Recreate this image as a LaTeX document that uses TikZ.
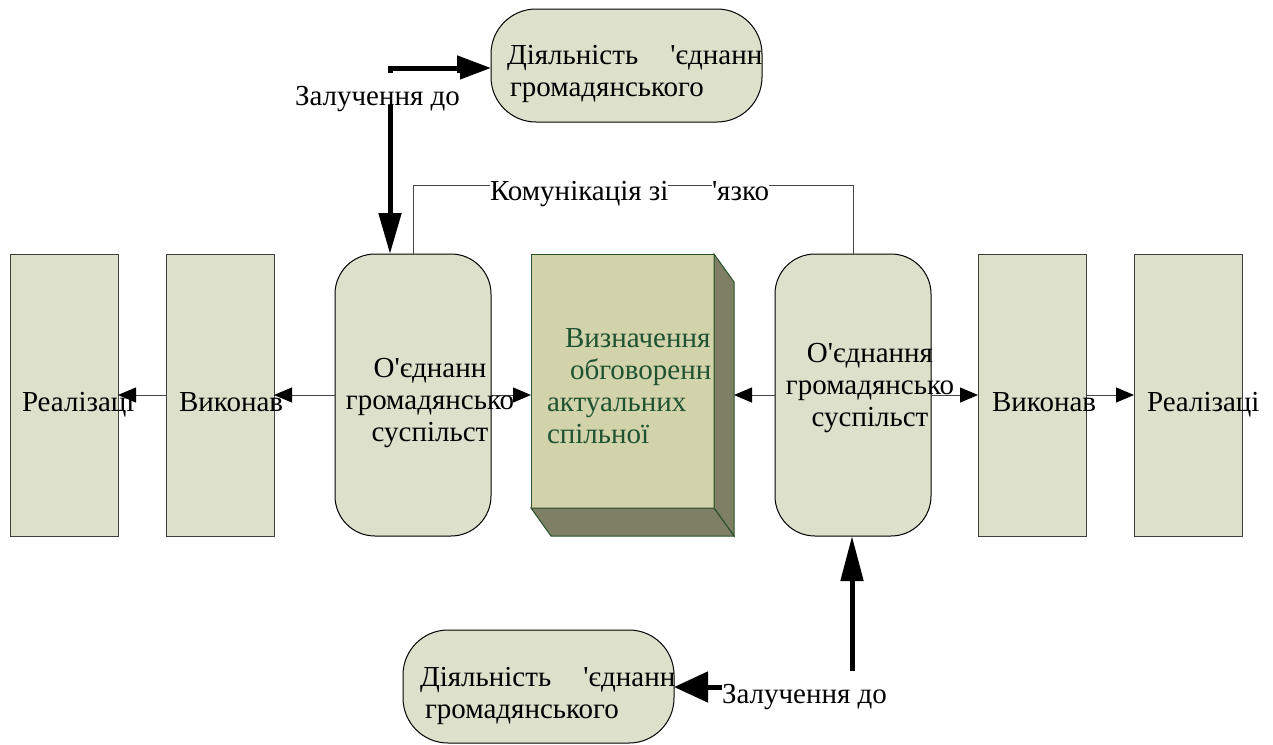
\documentclass[tikz,border=0pt]{standalone}
\usepackage{fontspec}
\setmainfont[Mapping=]{Liberation Serif}
\usetikzlibrary{arrows.meta}
\definecolor{boxfill}{RGB}{221,225,203}
\definecolor{boxline}{RGB}{64,64,64}
\definecolor{lineclr}{RGB}{70,70,70}
\definecolor{frontfill}{RGB}{211,211,171}
\definecolor{sidefill}{RGB}{127,127,102}
\definecolor{cline}{RGB}{40,80,40}
\definecolor{ctext}{RGB}{30,82,48}
\begin{document}
\begin{tikzpicture}[x=1pt,y=-1pt,
  every node/.style={inner sep=0pt,outer sep=0pt},
  txt/.style={font=\fontsize{29}{32}\selectfont},
  rectbox/.style={draw=boxline, fill=boxfill, line width=1pt, minimum width=108pt, minimum height=282pt},
  roundbox/.style={draw=black, fill=boxfill, line width=1pt, rounded corners=40pt, minimum width=156pt, minimum height=282pt},
  pillbox/.style={draw=black, fill=boxfill, line width=1pt, rounded corners=45pt, minimum width=271pt, minimum height=113pt},
  frontbox/.style={draw=cline, fill=frontfill, line width=1pt, minimum width=183pt, minimum height=254pt},
  thinarrow/.style={draw=lineclr, line width=1pt, -{Triangle[length=18pt,width=15pt,color=black]}},
  thinline/.style={draw=lineclr, line width=1pt},
  thickarrow/.style={draw=black, line width=5pt, line join=miter},
  lbl/.style={txt, fill=white, text height=32pt, text depth=0pt, anchor=base west}
]
\useasboundingbox (0,0) rectangle (1273,744);

% boxes
\node[rectbox] (r1) at (64,395) {};
\node[rectbox] (v1) at (220,395) {};
\node[roundbox] (o1) at (413,395) {};
\node[frontbox] (c) at (622.5,381) {};
\node[roundbox] (o2) at (853,395) {};
\node[rectbox] (v2) at (1032,395) {};
\node[rectbox] (r2) at (1188,395) {};
\node[pillbox] (t) at (626.5,65.5) {};
\node[pillbox] (b) at (538.5,686.5) {};

% 3D faces of the central box
\filldraw[fill=sidefill, draw=cline, line width=1pt] (c.north east) -- ++(20,28) -- ++(0,254) -- (c.south east) -- cycle;
\filldraw[fill=sidefill, draw=cline, line width=1pt] (c.south west) -- ++(20,28) -- ++(183,0) -- (c.south east) -- cycle;

% thin connectors
\coordinate (cside) at (734,395);
\draw[thinarrow] (o1.west) -- (v1.east);
\draw[thinarrow] (v1.west) -- (r1.east);
\draw[thinarrow] (o1.east) -- (o1.east -| c.west);
\draw[thinarrow] (o2.west) -- (cside);
\draw[thinarrow] (o2.east) -- (v2.west);
\draw[thinarrow] (v2.east) -- (r2.west);
\draw[thinline] (o1.north) -- ++(0,-69) -| (o2.north);

% thick connectors
\coordinate (tc) at (390,68);
\draw[thickarrow, {Triangle[length=41pt,width=22pt]}-{Triangle[length=34pt,width=24pt]}] (tc |- o1.north) -- (tc) -- (tc -| t.west);
\coordinate (bc) at (852,687);
\draw[thickarrow, {Triangle[length=45pt,width=22pt]}-{Triangle[length=34pt,width=30pt]}] (bc |- o2.south) -- (bc) -- (bc -| b.east);

% labels
\node[lbl] (zal1) at (295,105) {Залучення до};
\node[lbl] (zal2) at (722,703) {Залучення до};
\node[lbl, text height=22pt] (kom1) at (490,200) {Комунікація зі};
\node[lbl, text height=22pt] (kom2) at (712,200) {'язко};

% texts in boxes
\node[txt, anchor=base west] (r1t) at (22,411) {Реалізаці};
\node[txt, anchor=base west] (v1t) at (179,411) {Виконав};
\node[txt, anchor=base west] (v2t) at (992,411) {Виконав};
\node[txt, anchor=base west] (r2t) at (1147,411) {Реалізаці};
\node[txt, align=center] (o1t) at (430,403) {О'єднанн\\громадянсько\\суспільст};
\node[txt, align=center] (o2t) at (870,388.5) {О'єднання\\громадянсько\\суспільст};
\node[txt, align=left, text=ctext, anchor=west] (ct) at (547,386) {\hspace*{18pt}Визначення\\\hspace*{23pt}обговоренн\\актуальних\\спільної};
\node[txt, align=left, anchor=west] (tt) at (507,74) {Діяльність\hspace{25pt} 'єднанн\\\hspace*{3pt}громадянського};
\node[txt, align=left, anchor=west] (bt) at (420,696) {Діяльність\hspace{25pt} 'єднанн\\\hspace*{5pt}громадянського};
\end{tikzpicture}
\end{document}
